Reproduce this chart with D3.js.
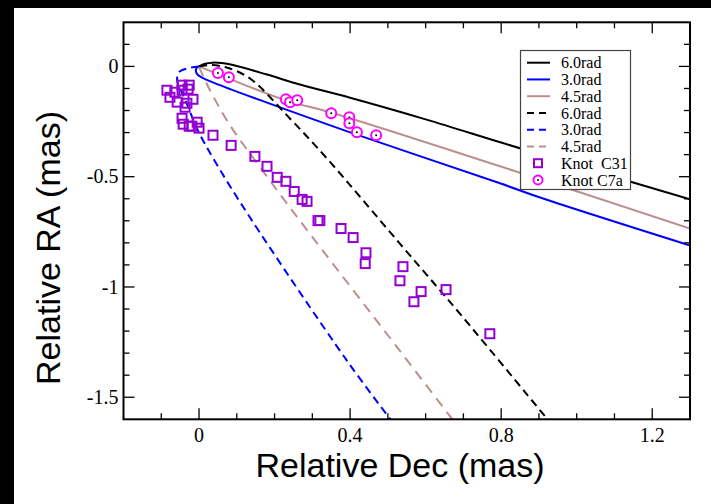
<!DOCTYPE html>
<html>
<head>
<meta charset="utf-8">
<script src="https://cdn.jsdelivr.net/npm/d3@7"></script>
<style>
  html, body { margin: 0; padding: 0; background: #fff; }
  svg { display: block; }
</style>
</head>
<body>
<svg id="chart" width="711" height="504"></svg>
<script>
// Model trajectories (Dec, RA) in mas for three rotation parameters,
// two families (solid and dashed), plus observed knot positions.
const solid60 = [[0,0],[0.016,0.012],[0.036,0.017],[0.06,0.015],[0.09,0.006],[0.18,-0.037],[0.267,-0.082],[0.4,-0.142],[0.6,-0.24],[0.8,-0.345],[1.05,-0.475],[1.300,-0.603]];
const solid30 = [[0,0],[-0.008,-0.012],[-0.005,-0.035],[0.011,-0.053],[0.048,-0.080],[0.162,-0.153],[0.400,-0.299],[0.797,-0.530],[0.911,-0.599],[1.300,-0.812]];
const solid45 = [[0,0],[0.037,-0.026],[0.228,-0.153],[0.347,-0.208],[0.797,-0.453],[1.300,-0.735]];
const dashed60 = [[0,0],[0.034,0.006],[0.075,-0.006],[0.135,-0.055],[0.24,-0.235],[0.34,-0.42],[0.53,-0.80],[0.70,-1.14],[0.924,-1.603]];
const dashed30 = [[0,0],[-0.029,-0.008],[-0.053,-0.026],[-0.058,-0.062],[-0.048,-0.108],[-0.032,-0.171],[-0.003,-0.290],[0.042,-0.430],[0.135,-0.685],[0.392,-1.335],[0.508,-1.603]];
const dashed45 = [[0,-0.003],[0.011,-0.044],[0.029,-0.108],[0.082,-0.267],[0.162,-0.458],[0.267,-0.699],[0.532,-1.290],[0.672,-1.603]];

const knotC31 = [[-0.085,-0.108],[-0.064,-0.117],[-0.045,-0.085],[-0.026,-0.085],[-0.045,-0.108],[-0.029,-0.103],
  [-0.077,-0.140],[-0.058,-0.162],[-0.016,-0.149],[-0.032,-0.167],[-0.037,-0.185],[-0.045,-0.235],[-0.042,-0.262],
  [-0.026,-0.271],[-0.019,-0.271],[-0.005,-0.253],[0.000,-0.280],[0.037,-0.312],[0.085,-0.358],[0.148,-0.408],
  [0.180,-0.453],[0.207,-0.503],[0.230,-0.521],[0.252,-0.567],[0.273,-0.603],[0.286,-0.612],[0.315,-0.699],
  [0.320,-0.699],[0.376,-0.735],[0.408,-0.776],[0.442,-0.845],[0.440,-0.894],[0.540,-0.908],[0.532,-0.972],
  [0.588,-1.021],[0.569,-1.067],[0.654,-1.012],[0.770,-1.212]];
const knotC7a = [[0.050,-0.030],[0.079,-0.049],[0.230,-0.149],[0.241,-0.162],[0.260,-0.153],[0.350,-0.212],
  [0.398,-0.230],[0.398,-0.258],[0.418,-0.299],[0.469,-0.312]];

const xMajor = [0, 0.4, 0.8, 1.2];
const xMinor = [-0.1, 0.1, 0.2, 0.3, 0.5, 0.6, 0.7, 0.9, 1.0, 1.1];
const yMajor = [0, -0.5, -1, -1.5];
const yMinor = [0.1, -0.1, -0.2, -0.3, -0.4, -0.6, -0.7, -0.8, -0.9, -1.1, -1.2, -1.3, -1.4];
const xTickLabels = ["0", "0.4", "0.8", "1.2"];
const yTickLabels = ["0", "-0.5", "-1", "-1.5"];

const legendLabels = ["6.0rad", "3.0rad", "4.5rad", "6.0rad", "3.0rad", "4.5rad", "Knot  C31", "Knot C7a"];

const BLACK = "#000000", BLUE = "#0000ff", BROWN = "#bc8f8f", VIOLET = "#9400d3", MAGENTA = "#ff00ff";

const series = [
  { data: solid60, color: BLACK, dash: null },
  { data: solid30, color: BLUE, dash: null },
  { data: solid45, color: BROWN, dash: null },
  { data: dashed60, color: BLACK, dash: "8,5" },
  { data: dashed30, color: BLUE, dash: "8,5" },
  { data: dashed45, color: BROWN, dash: "10,7" }
];

const svg = d3.select("#chart");
const W = 711, H = 504;
const plot = { left: 123.5, right: 690, top: 22.3, bottom: 419.3 };

// frame of the exported image
svg.append("rect").attr("x", 0).attr("y", 0).attr("width", W).attr("height", 8).attr("fill", "#000");
svg.append("rect").attr("x", 0).attr("y", 0).attr("width", 14).attr("height", H).attr("fill", "#000");

const x = d3.scaleLinear().domain([-0.2, 1.3]).range([plot.left, plot.right]);
const y = d3.scaleLinear().domain([-1.6, 0.2]).range([plot.bottom, plot.top]);

svg.append("defs").append("clipPath").attr("id", "plotclip")
  .append("rect").attr("x", plot.left).attr("y", plot.top)
  .attr("width", plot.right - plot.left).attr("height", plot.bottom - plot.top);

const line = d3.line().x(d => x(d[0])).y(d => y(d[1])).curve(d3.curveCatmullRom.alpha(0.5));

const g = svg.append("g").attr("clip-path", "url(#plotclip)");
series.forEach(s => {
  g.append("path").attr("d", line(s.data))
    .attr("fill", "none").attr("stroke", s.color).attr("stroke-width", 2)
    .attr("stroke-dasharray", s.dash);
});

// knot C31: open squares
g.selectAll("rect.c31").data(knotC31).join("rect").attr("class", "c31")
  .attr("x", d => x(d[0]) - 4.5).attr("y", d => y(d[1]) - 4.5)
  .attr("width", 9).attr("height", 9)
  .attr("fill", "none").attr("stroke", VIOLET).attr("stroke-width", 2);

// knot C7a: open circles with a centre dot
const c7 = g.selectAll("g.c7a").data(knotC7a).join("g").attr("class", "c7a")
  .attr("transform", d => `translate(${x(d[0])},${y(d[1])})`);
c7.append("circle").attr("r", 5).attr("fill", "#fff").attr("stroke", MAGENTA).attr("stroke-width", 2);
c7.append("circle").attr("r", 1).attr("fill", "#000");

// axes: ticks pointing inward on all four sides
const axes = svg.append("g").attr("stroke", "#000").attr("stroke-width", 1.3);
const MAJ = 11, MIN = 6;
function xTicks(vals, len) {
  vals.forEach(v => {
    const px = x(v);
    axes.append("line").attr("x1", px).attr("x2", px).attr("y1", plot.bottom).attr("y2", plot.bottom - len);
    axes.append("line").attr("x1", px).attr("x2", px).attr("y1", plot.top).attr("y2", plot.top + len);
  });
}
function yTicks(vals, len) {
  vals.forEach(v => {
    const py = y(v);
    axes.append("line").attr("y1", py).attr("y2", py).attr("x1", plot.left).attr("x2", plot.left + len);
    axes.append("line").attr("y1", py).attr("y2", py).attr("x1", plot.right).attr("x2", plot.right - len);
  });
}
xTicks(xMajor, MAJ); xTicks(xMinor, MIN);
yTicks(yMajor, MAJ); yTicks(yMinor, MIN);
axes.append("rect").attr("x", plot.left).attr("y", plot.top)
  .attr("width", plot.right - plot.left).attr("height", plot.bottom - plot.top)
  .attr("fill", "none").attr("stroke-width", 2);

const serif = "'Liberation Serif', 'Times New Roman', serif";
const sans = "'Liberation Sans', Arial, sans-serif";

svg.selectAll("text.xt").data(xMajor).join("text").attr("class", "xt")
  .attr("x", d => x(d)).attr("y", 442).attr("text-anchor", "middle")
  .attr("font-family", serif).attr("font-size", 20)
  .text((d, i) => xTickLabels[i]);
svg.selectAll("text.yt").data(yMajor).join("text").attr("class", "yt")
  .attr("x", plot.left - 5).attr("y", d => y(d)).attr("dy", "0.34em").attr("text-anchor", "end")
  .attr("font-family", serif).attr("font-size", 20)
  .text((d, i) => yTickLabels[i]);

svg.append("text").attr("x", 400).attr("y", 477).attr("text-anchor", "middle")
  .attr("font-family", sans).attr("font-size", 34).text("Relative Dec (mas)");
svg.append("text").attr("transform", "translate(60,248) rotate(-90)").attr("text-anchor", "middle")
  .attr("font-family", sans).attr("font-size", 34).text("Relative RA (mas)");

// legend
const lg = svg.append("g");
lg.append("rect").attr("x", 520.5).attr("y", 50.5).attr("width", 110).attr("height", 139)
  .attr("fill", "#fff").attr("stroke", "#444").attr("stroke-width", 1.2);
const rowY = i => 62.7 + i * 16.75;
series.forEach((s, i) => {
  lg.append("line").attr("x1", 527).attr("x2", 550).attr("y1", rowY(i)).attr("y2", rowY(i))
    .attr("stroke", s.color).attr("stroke-width", 2).attr("stroke-dasharray", s.dash ? "7,5" : null);
});
lg.append("rect").attr("x", 538 - 4).attr("y", rowY(6) - 4).attr("width", 8).attr("height", 8)
  .attr("fill", "none").attr("stroke", VIOLET).attr("stroke-width", 2);
lg.append("circle").attr("cx", 538).attr("cy", rowY(7)).attr("r", 4.5)
  .attr("fill", "#fff").attr("stroke", MAGENTA).attr("stroke-width", 2);
lg.append("circle").attr("cx", 538).attr("cy", rowY(7)).attr("r", 1).attr("fill", "#000");
legendLabels.forEach((t, i) => {
  lg.append("text").attr("x", 561).attr("y", rowY(i)).attr("dy", "0.35em")
    .attr("font-family", serif).attr("font-size", 16).attr("xml:space", "preserve")
    .style("white-space", "pre").text(t);
});
</script>
</body>
</html>
